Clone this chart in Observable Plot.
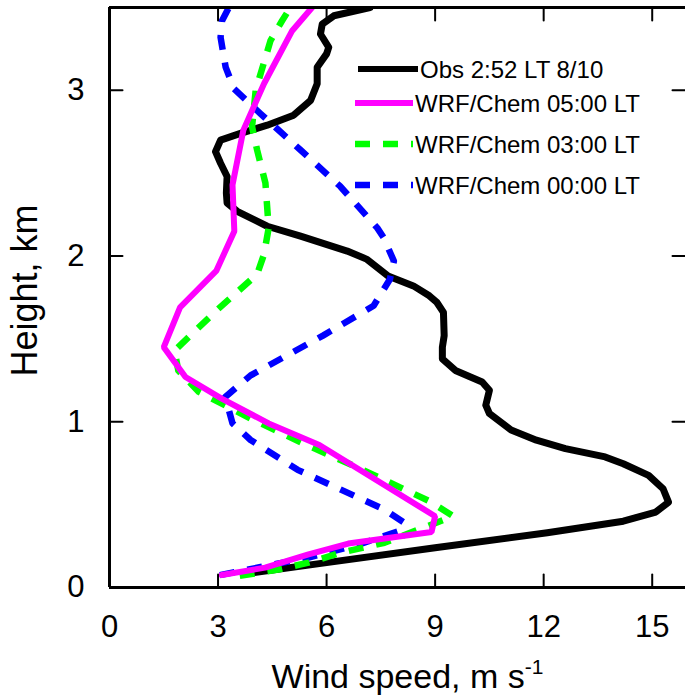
<!DOCTYPE html>
<html>
<head>
<meta charset="utf-8">
<script src="https://cdn.jsdelivr.net/npm/d3@7"></script>
<script src="https://cdn.jsdelivr.net/npm/@observablehq/plot@0.6"></script>
<style>
html,body{margin:0;padding:0;background:#fff;overflow:hidden;}
#wrap{position:relative;width:685px;height:700px;}
#legend{position:absolute;left:0;top:0;pointer-events:none;}
</style>
</head>
<body>
<div id="wrap"></div>
<script>
// ---- data ----
const xTicks = [0, 3, 6, 9, 12, 15];
const yTicks = [0, 1, 2, 3];
const seriesNames = ["Obs 2:52 LT 8/10", "WRF/Chem 05:00 LT", "WRF/Chem 03:00 LT", "WRF/Chem 00:00 LT"];
const seriesColors = ["#000000", "#ff00ff", "#00ff00", "#0000ff"];

const obsHeight = [0.09,0.15,0.24,0.33,0.40,0.455,0.515,0.596,0.677,0.747,0.788,0.838,0.889,0.95,1.05,1.10,1.19,1.24,1.31,1.38,1.45,1.52,1.66,1.72,1.76,1.82,1.88,1.98,2.03,2.12,2.18,2.27,2.32,2.38,2.48,2.56,2.63,2.70,2.74,2.79,2.85,2.94,3.04,3.14,3.22,3.26,3.34,3.40,3.45,3.50];
const obsSpeed  = [4.0,6.0,9.0,12.1,14.2,15.1,15.45,15.3,14.9,14.2,13.7,12.6,11.8,11.1,10.5,10.4,10.5,10.3,9.56,9.2,9.2,9.25,9.23,9.05,8.84,8.4,7.7,7.12,6.57,5.28,4.36,3.53,3.25,3.23,3.25,3.07,2.93,3.07,3.62,4.36,5.09,5.56,5.74,5.74,6.0,6.06,5.83,5.88,6.2,7.2];

const wrf05Height = [0.075,0.12,0.20,0.265,0.335,0.43,0.86,0.99,1.14,1.27,1.45,1.69,1.91,2.15,2.43,2.76,3.04,3.36,3.50];
const wrf05Speed  = [3.1,4.3,5.5,6.6,8.9,9.0,5.8,4.4,3.1,2.1,1.5,1.95,2.95,3.45,3.4,3.7,4.27,5.05,5.6];

const wrf03Height = [0.07,0.11,0.15,0.21,0.27,0.43,0.52,0.71,0.87,1.02,1.18,1.31,1.43,1.68,1.89,2.01,2.17,2.44,2.64,2.78,3.00,3.30,3.42,3.50];
const wrf03Speed  = [3.6,4.7,5.5,6.4,7.6,9.5,8.85,7.0,5.35,3.9,2.47,1.9,1.8,3.0,4.08,4.27,4.4,4.31,4.08,3.94,4.04,4.45,4.77,5.0];

const wrf00Height = [0.075,0.18,0.26,0.34,0.39,0.47,0.55,0.71,0.89,0.99,1.15,1.28,1.52,1.70,1.86,1.97,2.11,2.17,2.42,2.64,2.86,3.01,3.14,3.32,3.42,3.50];
const wrf00Speed  = [3.05,5.5,6.9,8.0,8.15,7.6,6.8,5.2,3.9,3.4,3.2,3.9,5.9,7.3,7.75,7.86,7.58,7.40,6.38,5.28,4.17,3.44,3.21,3.07,3.11,3.3];

// ---- build table ----
function toRows(name, hs, vs) { return hs.map((h, i) => ({series: name, h, v: vs[i]})); }
const obsRows = toRows(seriesNames[0], obsHeight, obsSpeed);
const w05Rows = toRows(seriesNames[1], wrf05Height, wrf05Speed);
const w03Rows = toRows(seriesNames[2], wrf03Height, wrf03Speed);
const w00Rows = toRows(seriesNames[3], wrf00Height, wrf00Speed);

const tickShape = {draw(ctx, l) { ctx.moveTo(0, 0); ctx.lineTo(0, -l); }};
const tickOpts = {length: 13, anchor: "start", shape: tickShape, stroke: "black", strokeWidth: 2};
const fontFam = "'Liberation Sans', Arial, sans-serif";

const chart = Plot.plot({
  width: 685, height: 700,
  marginLeft: 109, marginRight: 0, marginTop: 7, marginBottom: 113,
  x: {domain: [0, 15.92]},
  y: {domain: [0, 3.5]},
  style: {fontFamily: fontFam, color: "black", background: "white", overflow: "hidden"},
  marks: [
    Plot.line(obsRows, {x: "v", y: "h", stroke: seriesColors[0], strokeWidth: 7, strokeLinejoin: "round", clip: true}),
    Plot.line(w00Rows, {x: "v", y: "h", stroke: seriesColors[3], strokeWidth: 6.5, strokeDasharray: "15,13", strokeLinecap: "butt", clip: true}),
    Plot.line(w03Rows, {x: "v", y: "h", stroke: seriesColors[2], strokeWidth: 6.5, strokeDasharray: "15,13", strokeLinecap: "butt", clip: true}),
    Plot.line(w05Rows, {x: "v", y: "h", stroke: seriesColors[1], strokeWidth: 6, strokeLinejoin: "miter", clip: true}),
    Plot.ruleX([0], {stroke: "black", strokeWidth: 3}),
    Plot.ruleY([0, 3.5], {stroke: "black", strokeWidth: 3}),
    Plot.vector(xTicks.slice(1), {x: d => d, frameAnchor: "bottom", rotate: 0, ...tickOpts}),
    Plot.vector(xTicks.slice(1), {x: d => d, frameAnchor: "top", rotate: 180, ...tickOpts}),
    Plot.vector(yTicks.slice(1), {y: d => d, frameAnchor: "left", rotate: 90, ...tickOpts}),
    Plot.vector(yTicks.slice(1), {y: d => d, frameAnchor: "right", rotate: -90, ...tickOpts}),
    Plot.axisX({ticks: xTicks, tickSize: 0, tickPadding: 27, fontSize: 31, tickFormat: d => String(d), label: null}),
    Plot.axisY({ticks: yTicks, tickSize: 0, tickPadding: 25, fontSize: 31, tickFormat: d => String(d), label: null}),
    Plot.text(["Wind speed, m s-1"], {frameAnchor: "bottom", dy: 100, dx: 10, textAnchor: "middle", lineAnchor: "bottom", fontSize: 34, fill: "black"}),
    Plot.text(["Height, km"], {frameAnchor: "left", rotate: -90, dx: -84, dy: -7, textAnchor: "middle", lineAnchor: "middle", fontSize: 36, fill: "black"})
  ]
});

const wrap = document.getElementById("wrap");
wrap.appendChild(chart);

// superscript on x title
chart.querySelectorAll("text").forEach(t => {
  if (t.textContent === "Wind speed, m s-1") {
    t.textContent = "";
    const ns = "http://www.w3.org/2000/svg";
    const a = document.createElementNS(ns, "tspan"); a.textContent = "Wind speed, m s";
    const b = document.createElementNS(ns, "tspan"); b.textContent = "-1";
    b.setAttribute("font-size", "21"); b.setAttribute("dy", "-14");
    t.appendChild(a); t.appendChild(b);
  }
});

// legend overlay
const legendY = [69, 103, 144, 185];
const legendX0 = [358, 355, 355, 355];
const legendX1 = [418, 413, 413, 413];
const legendTextX = [420, 415, 415, 415];
const legendDash = [null, null, "15,13", "15,13"];
const legendW = [6, 6, 6.5, 6.5];
const lg = d3.select(wrap).append("svg").attr("id", "legend").attr("width", 685).attr("height", 700);
seriesNames.forEach((name, i) => {
  lg.append("line").attr("x1", legendX0[i]).attr("x2", legendX1[i]).attr("y1", legendY[i]).attr("y2", legendY[i])
    .attr("stroke", seriesColors[i]).attr("stroke-width", legendW[i])
    .attr("stroke-dasharray", legendDash[i]);
  lg.append("text").attr("x", legendTextX[i]).attr("y", legendY[i]).attr("dy", "0.36em")
    .attr("font-family", fontFam).attr("font-size", 24).attr("fill", "black")
    .text(name);
});
</script>
</body>
</html>
